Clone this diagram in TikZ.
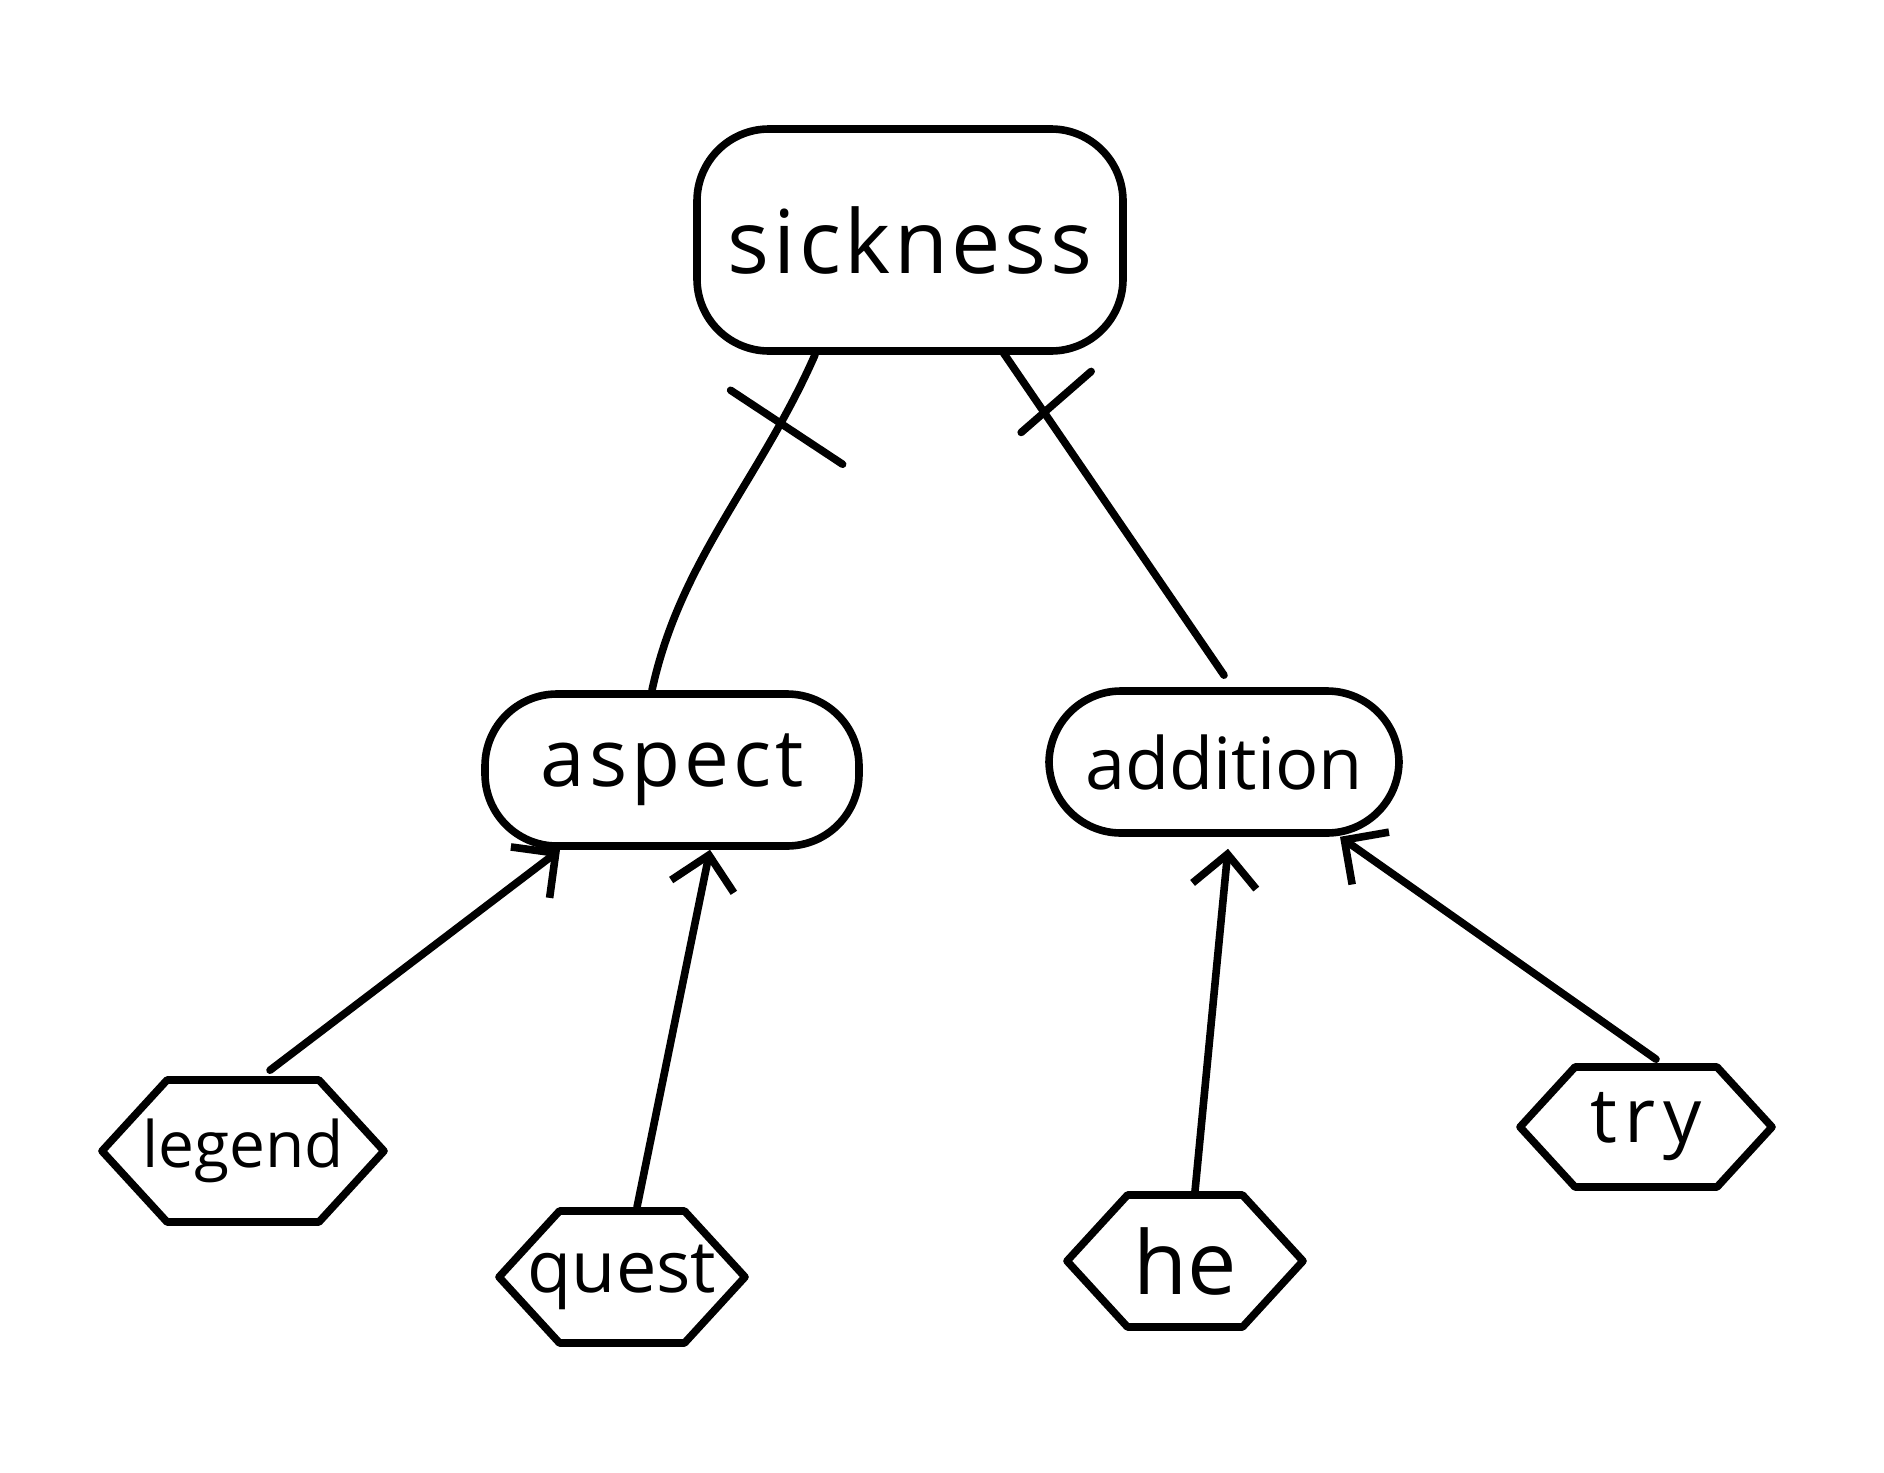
\documentclass[tikz,border=0pt]{standalone}
\usepackage{fontspec}
\setmainfont{Open Sans}
\usetikzlibrary{shapes.symbols,calc,arrows.meta}
\begin{document}
\begin{tikzpicture}[x=0.5pt,y=-0.5pt,
  ink/.style={line width=3.8pt,line cap=round,line join=round},
  roundbox/.style={ink,draw,rectangle,rounded corners=36pt,inner sep=0pt},
  hexbox/.style={ink,draw,shape=signal,signal to=east and west,signal pointer angle=95,inner ysep=0pt,inner xsep=-18pt},
  link/.style={ink},
  tick/.style={ink},
  feed/.style={ink,-{Straight Barb[length=16pt,width=32pt,line width=3.8pt]}}
]
\useasboundingbox[fill=white] (0,0) rectangle (1884,1472);

\node[roundbox,minimum width=213pt,minimum height=111pt,font=\fontsize{44}{50}\selectfont] (sickness) at (910,240) {\addfontfeature{LetterSpace=4}sickness};
\node[roundbox,minimum width=187pt,minimum height=76pt,font=\fontsize{40}{46}\selectfont] (aspect) at (672,770) {\addfontfeature{LetterSpace=5}aspect};
\node[roundbox,minimum width=175pt,minimum height=71pt,font=\fontsize{36}{42}\selectfont] (addition) at (1224,762) {addition};

\node[hexbox,minimum width=141pt,minimum height=71pt,font=\fontsize{32}{38}\selectfont] (legend) at (243,1151) {legend};
\node[hexbox,minimum width=123pt,minimum height=66pt,font=\fontsize{36}{42}\selectfont] (quest) at (622,1277) {quest};
\node[hexbox,minimum width=118pt,minimum height=66pt,font=\fontsize{44}{50}\selectfont] (he) at (1185,1261) {he};
\node[hexbox,minimum width=126pt,minimum height=60pt,font=\fontsize{38}{44}\selectfont] (try) at (1646,1127) {\addfontfeature{LetterSpace=10}try};

% links with crossing marks
\draw[link] ($(sickness.south)+(-95,0)$) .. controls (760,480) and (680,560) .. coordinate[pos=0.2] (c1) ($(aspect.north)+(-20,0)$);
\draw[tick] ($(c1)+(-49,-35)$) -- ($(c1)+(63,39)$);
\draw[link] ($(sickness.south)+(92,-4)$) -- coordinate[pos=0.19] (c2) ($(addition.north)+(0,-12)$);
\draw[tick] ($(c2)+(-23,20)$) -- ($(c2)+(47,-41)$);

% arrows
\draw[feed] ($(legend.north)+(27,-6)$) -- ($(aspect.south)+(-112,0)$);
\draw[feed] ($(quest.north)+(15,0)$) -- ($(aspect.south)+(38,0)$);
\draw[feed] ($(he.north)+(10,0)$) -- ($(addition.south)+(4,12)$);
\draw[feed] ($(try.north)+(10,-4)$) -- ($(addition.south)+(116,0)$);
\end{tikzpicture}
\end{document}
